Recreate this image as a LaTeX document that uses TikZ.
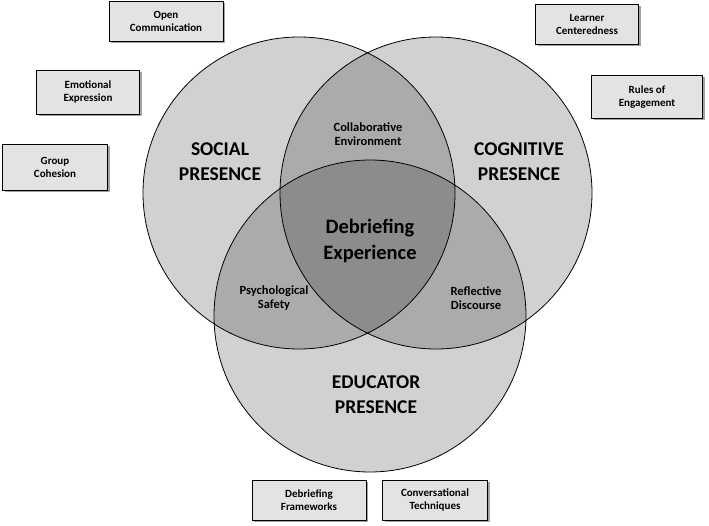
\documentclass[tikz,border=0pt]{standalone}
\usepackage{fontspec}
\setmainfont{Carlito}
\usetikzlibrary{shadows}

\begin{document}
\begin{tikzpicture}[
  x=1pt, y=-1pt,
  font=\bfseries,
  ring/.style={
    circle,
    draw=black,
    line width=0.8pt,
    fill=black,
    fill opacity=0.18,
    minimum size=312pt,
    inner sep=0pt
  },
  tag/.style={
    draw=black,
    line width=0.7pt,
    fill=black!11,
    align=center,
    minimum height=40pt,
    minimum width=105pt,
    font=\bfseries\fontsize{11}{13}\selectfont,
    drop shadow={shadow xshift=2pt, shadow yshift=-2pt, fill=black!60, opacity=0.6}
  },
  big/.style={align=center, text=black, font=\bfseries\fontsize{19.5}{25}\selectfont},
  small/.style={align=center, text=black, font=\bfseries\fontsize{12.5}{14.5}\selectfont}
]
  \useasboundingbox (0,0) rectangle (709,526);

  % the three presences
  \node[ring] (social) at (299,193) {};
  \node[ring] (cognitive) at (436,193) {};
  \node[ring] (educator) at (370,316) {};

  \node[big] (socialtxt) at (220,162) {SOCIAL\\PRESENCE};
  \node[big] (cogtxt) at (519,162) {COGNITIVE\\PRESENCE};
  \node[big] (edutxt) at (376,395) {EDUCATOR\\PRESENCE};

  % overlaps
  \node[small] (collab) at (368,134) {Collaborative\\Environment};
  \node[small] (safety) at (274,298) {Psychological\\Safety};
  \node[small] (discourse) at (476,298) {Reflective\\Discourse};
  \node[big, font=\bfseries\fontsize{20.5}{26}\selectfont] (core) at (370,241) {Debriefing\\Experience};

  % elements
  \node[tag, minimum width=114pt] (open) at (166,21) {Open\\Communication};
  \node[tag, minimum width=103pt, minimum height=44pt] (emotion) at (88,92) {Emotional\\Expression};
  \node[tag, minimum height=46pt] (group) at (55,167) {Group\\Cohesion};
  \node[tag, minimum width=103pt] (learner) at (587,24) {Learner\\Centeredness};
  \node[tag, minimum width=111pt, minimum height=43pt] (rules) at (647,97) {Rules of\\Engagement};
  \node[tag, minimum width=114pt] (frames) at (309,500) {Debriefing\\Frameworks};
  \node[tag] (talk) at (435,500) {Conversational\\Techniques};
\end{tikzpicture}
\end{document}
